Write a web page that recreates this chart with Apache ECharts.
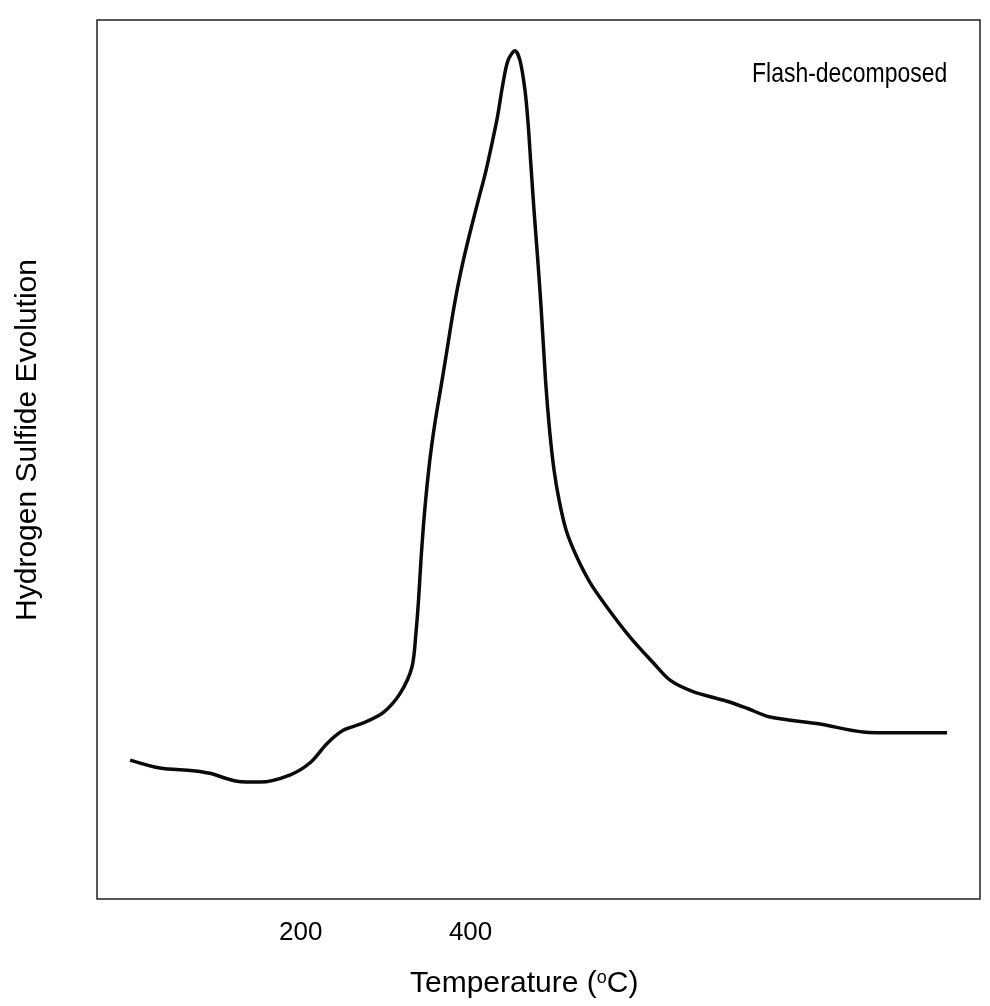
<!DOCTYPE html>
<html>
<head>
<meta charset="utf-8">
<script src="https://cdn.jsdelivr.net/npm/echarts@6/dist/echarts.min.js"></script>
<style>
html,body{margin:0;padding:0;background:#fff;}
#chart{width:990px;height:1006px;}
</style>
</head>
<body>
<div id="chart"></div>
<script>
// Temperature (°C)
const temperature = [-1, 34, 73, 93, 125, 152, 187, 211, 231, 250, 273, 297, 317, 331, 335.7, 338.7, 341.6, 345.7, 351.6, 358.1, 366.4, 372.8, 379.3, 385.8, 393.5, 401.1, 408.8, 417, 425.3, 431.7, 438.2, 444.1, 452.3, 458.2, 464.1, 467.7, 471.2, 474.7, 478.9, 483, 488.3, 493, 498.3, 504.2, 512.4, 524.2, 540.7, 560.7, 587.8, 614.9, 634.9, 662, 702, 725.6, 752.7, 811.6, 862.2, 902.3, 961.2];
// Hydrogen sulfide evolution (arbitrary units)
const h2sEvolution = [15.8, 14.9, 14.6, 14.3, 13.4, 13.3, 14.1, 15.5, 17.7, 19.2, 20.0, 21.2, 23.4, 26.4, 30.3, 34.0, 38.6, 43.9, 49.6, 54.2, 59.0, 62.8, 66.7, 70.1, 73.5, 76.5, 79.4, 82.4, 86.0, 89.0, 92.8, 95.4, 96.5, 95.4, 92.0, 88.3, 83.3, 78.4, 73.0, 67.4, 59.0, 53.4, 48.8, 45.4, 42.0, 39.1, 36.0, 33.2, 29.8, 26.9, 24.9, 23.6, 22.5, 21.7, 20.7, 19.9, 19.0, 18.9, 18.9];
const xTickLabels = [200, 400];
const seriesLabel = 'Flash-decomposed';
const xTitle = 'Temperature';
const yTitle = 'Hydrogen Sulfide Evolution';

const points = temperature.map((t, i) => [t, h2sEvolution[i]]);

const chart = echarts.init(document.getElementById('chart'), null, {renderer: 'canvas'});
chart.setOption({
  backgroundColor: '#ffffff',
  animation: false,
  grid: {
    left: 97, right: 10, top: 20, bottom: 107,
    show: true, borderColor: '#222', borderWidth: 1.5, backgroundColor: 'transparent'
  },
  xAxis: {
    type: 'value',
    min: -40, max: 1000,
    axisLine: {show: false},
    axisTick: {show: false},
    splitLine: {show: false},
    axisLabel: {
      customValues: xTickLabels,
      margin: 21,
      color: '#000',
      fontFamily: 'Liberation Sans, Arial, sans-serif',
      fontSize: 26
    }
  },
  yAxis: {
    type: 'value',
    min: 0, max: 100,
    axisLine: {show: false},
    axisTick: {show: false},
    axisLabel: {show: false},
    splitLine: {show: false}
  },
  series: [{
    type: 'line',
    name: seriesLabel,
    data: points,
    showSymbol: false,
    smooth: 0.3,
    lineStyle: {color: '#0a0a0a', width: 3.5},
    z: 3
  }],
  graphic: [
    {
      type: 'text', x: 752, y: 74, scaleX: 0.82,
      style: {
        text: seriesLabel,
        font: '28px "Liberation Sans", Arial, sans-serif',
        fill: '#000', textAlign: 'left', textVerticalAlign: 'middle'
      }
    },
    {
      type: 'text', x: 28, y: 440, rotation: Math.PI / 2,
      style: {
        text: yTitle,
        font: '30px "Liberation Sans", Arial, sans-serif',
        fill: '#000', textAlign: 'center', textVerticalAlign: 'middle'
      }
    },
    {
      type: 'text', x: 410, y: 984,
      style: {
        text: xTitle + ' ({sup|o}C)',
        font: '30px "Liberation Sans", Arial, sans-serif',
        fill: '#000', textAlign: 'left', textVerticalAlign: 'middle',
        rich: {
          sup: {fontSize: 18, verticalAlign: 'top', fontFamily: 'Liberation Sans, Arial, sans-serif', fill: '#000'}
        }
      }
    }
  ]
});
</script>
</body>
</html>
